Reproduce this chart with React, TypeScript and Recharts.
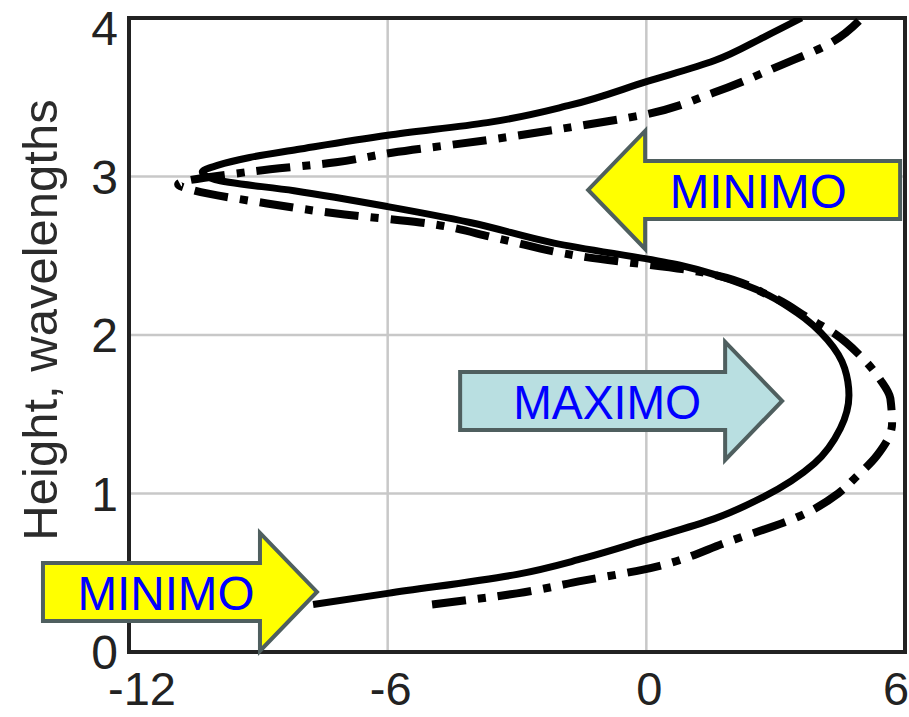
import {
  CartesianGrid,
  ReferenceArea,
  ReferenceDot,
  Scatter,
  ScatterChart,
  XAxis,
  YAxis,
} from "recharts";

// solid profile: height (wavelengths) and value along x
const SOLID_H = [
  0.3, 0.37, 0.49, 0.59, 0.71, 0.84, 0.98, 1.19, 1.41, 1.62, 1.79, 1.97, 2.14,
  2.31, 2.44, 2.58, 2.71, 2.81, 2.91, 2.98, 3.03, 3.07, 3.12, 3.17, 3.26, 3.34,
  3.45, 3.6, 3.73, 3.88, 4.0,
];
const SOLID_X = [
  -7.73, -6.0, -3.0, -1.47, 0.02, 1.57, 2.73, 3.9, 4.5, 4.7, 4.6, 4.2, 3.5,
  2.34, 0.78, -2.14, -4.09, -6.0, -8.17, -10.0, -10.3, -9.95, -9.2, -8.1, -6.0,
  -3.69, -1.77, 0.02, 1.57, 2.73, 3.6,
];

// dash-dot profile
const DASHDOT_H = [
  0.3, 0.37, 0.45, 0.52, 0.7, 0.87, 1.0, 1.1, 1.24, 1.44, 1.6, 1.72, 1.87,
  2.01, 2.1, 2.25, 2.4, 2.5, 2.61, 2.71, 2.76, 2.83, 2.92, 2.95, 3.03, 3.09,
  3.15, 3.23, 3.31, 3.39, 3.53, 3.7, 3.84, 4.0,
];
const DASHDOT_X = [
  -4.97, -3.0, -1.47, -0.07, 1.94, 3.66, 4.45, 4.85, 5.35, 5.7, 5.66, 5.42,
  4.96, 4.36, 3.8, 2.85, 1.2, -1.6, -3.46, -5.25, -7.0, -8.8, -10.6, -10.86,
  -9.2, -7.2, -5.9, -3.69, -1.77, -0.05, 1.57, 3.1, 4.26, 5.0,
];

const X_TICKS = [-12, -6, 0, 6];
const Y_TICKS = [0, 1, 2, 3, 4];

// annotation arrows, anchored at their tips
const ARROW_LABELS = ["MINIMO", "MAXIMO", "MINIMO"];
const ARROW_TIP_X = [-1.35, 3.15, -7.64];
const ARROW_TIP_Y = [2.915, 1.584, 0.379];
const ARROW_DIR = [-1, 1, 1];
const ARROW_FILL = ["#ffff00", "#b9dfe1", "#ffff00"];
const ARROW_LEN = [312, 322, 274];
const ARROW_TEXT_DX = [170, -175, -151];
const ARROW_TEXT_W = [177, 188, 177];

const FONT = "'Liberation Sans', Arial, sans-serif";

const solid = SOLID_H.map((h, i) => ({ h, x: SOLID_X[i] }));
const dashDot = DASHDOT_H.map((h, i) => ({ h, x: DASHDOT_X[i] }));

const noPoint = () => <g />;

function makeArrow(i: number) {
  return (props: any) => {
    const { cx, cy } = props;
    const d = ARROW_DIR[i];
    const L = ARROW_LEN[i];
    const head = 57;
    const halfHead = 59;
    const halfShaft = 29;
    const pts = [
      [-L, -halfShaft],
      [-head, -halfShaft],
      [-head, -halfHead],
      [0, 0],
      [-head, halfHead],
      [-head, halfShaft],
      [-L, halfShaft],
    ]
      .map(([px, py]) => `${cx + d * px},${cy + py}`)
      .join(" ");
    return (
      <g>
        <polygon
          points={pts}
          fill={ARROW_FILL[i]}
          stroke="#4f5f5f"
          strokeWidth={4}
        />
        <text
          x={cx + ARROW_TEXT_DX[i]}
          y={cy + 18}
          textAnchor="middle"
          fontFamily={FONT}
          fontSize={48}
          fill="#0000ff"
          textLength={ARROW_TEXT_W[i]}
          lengthAdjust="spacingAndGlyphs"
        >
          {ARROW_LABELS[i]}
        </text>
      </g>
    );
  };
}

// end labels sit slightly inward, as in the original figure
function XTick(props: any) {
  const { x, y, payload } = props;
  const v = payload.value;
  const dx = v === -12 ? 13 : v === 6 ? -9 : 3;
  return (
    <text
      x={x + dx}
      y={y}
      dy="0.71em"
      textAnchor="middle"
      fontFamily={FONT}
      fontSize={47}
      fill="#222"
    >
      {v}
    </text>
  );
}

function AxisTitle(props: any) {
  const { viewBox } = props;
  const cx = viewBox.x + 40;
  const cy = viewBox.y + viewBox.height / 2 - 15;
  return (
    <text
      x={cx}
      y={cy}
      transform={`rotate(-90 ${cx} ${cy})`}
      textAnchor="middle"
      dominantBaseline="central"
      fontFamily={FONT}
      fontSize={49}
      fill="#2b2b2b"
    >
      Height, wavelengths
    </text>
  );
}

export default function App() {
  const tick = { fontSize: 48, fill: "#222", fontFamily: FONT };
  return (
    <div style={{ position: "absolute", left: 0, top: 0, background: "#fff" }}>
      <ScatterChart
        width={909}
        height={717}
        margin={{ top: 18, right: 4, bottom: 0, left: 0 }}
      >
        <CartesianGrid stroke="#c8c8c8" strokeWidth={2.5} />
        <XAxis
          type="number"
          dataKey="x"
          domain={[-12, 6]}
          ticks={X_TICKS}
          allowDataOverflow
          height={65}
          axisLine={false}
          tickLine={false}
          tickMargin={14}
          tick={<XTick />}
        />
        <YAxis
          type="number"
          dataKey="h"
          domain={[0, 4]}
          ticks={Y_TICKS}
          allowDataOverflow
          width={129}
          axisLine={false}
          tickLine={false}
          tickMargin={5}
          tick={tick}
          label={<AxisTitle />}
        />
        <Scatter
          data={dashDot}
          fill="#000"
          line={{ stroke: "#000", strokeWidth: 8, strokeDasharray: "34 12 8 12" }}
          lineJointType="monotoneY"
          shape={noPoint}
          isAnimationActive={false}
        />
        <Scatter
          data={solid}
          fill="#000"
          line={{ stroke: "#000", strokeWidth: 7 }}
          lineJointType="monotoneY"
          shape={noPoint}
          isAnimationActive={false}
        />
        <ReferenceArea
          x1={-12}
          x2={6}
          y1={0}
          y2={4}
          fill="none"
          stroke="#222"
          strokeWidth={4}
          ifOverflow="visible"
        />
        {ARROW_LABELS.map((_, i) => (
          <ReferenceDot
            key={i}
            x={ARROW_TIP_X[i]}
            y={ARROW_TIP_Y[i]}
            ifOverflow="visible"
            shape={makeArrow(i)}
          />
        ))}
      </ScatterChart>
    </div>
  );
}
